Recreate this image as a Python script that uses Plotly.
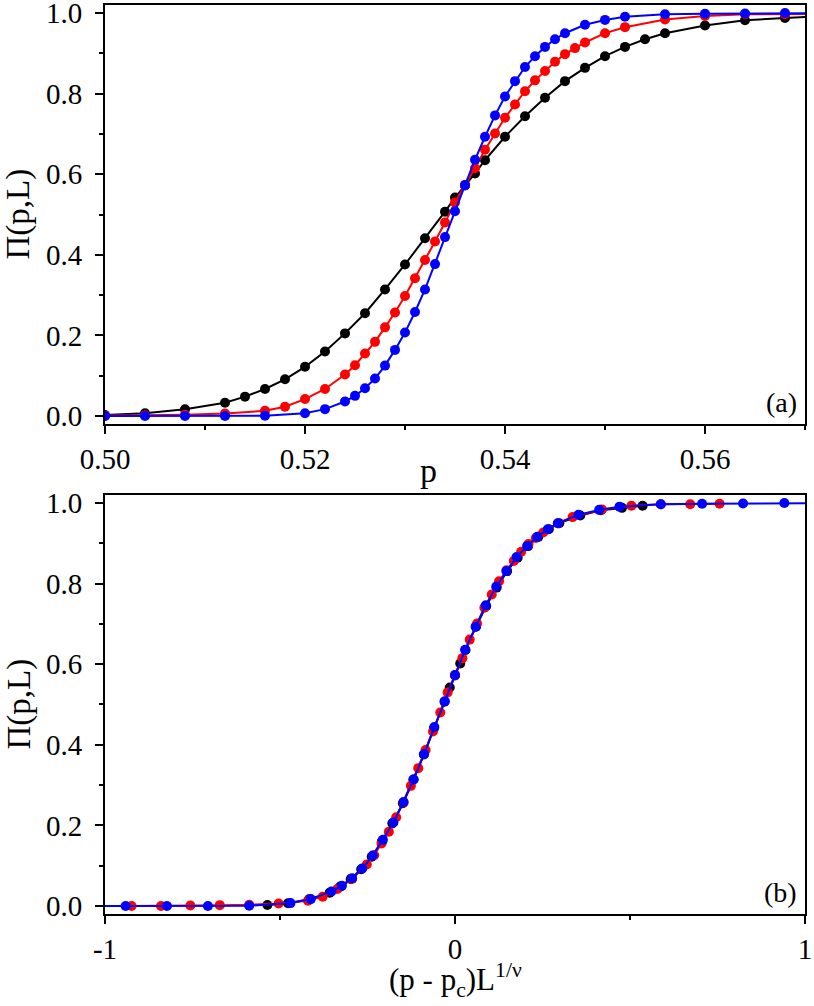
import plotly.graph_objects as go

# ---------------- panel (a): Pi(p,L) versus p ----------------
p_black = [0.500, 0.504, 0.508, 0.512, 0.514, 0.516, 0.518, 0.520, 0.522, 0.524,
           0.526, 0.528, 0.530, 0.532, 0.534, 0.535, 0.536, 0.537, 0.538, 0.540,
           0.542, 0.544, 0.546, 0.548, 0.550, 0.552, 0.554, 0.556, 0.560, 0.564,
           0.568, 0.572]
pi_black = [0.0025, 0.0066, 0.0165, 0.033, 0.048, 0.067, 0.091, 0.122, 0.160, 0.205,
            0.255, 0.314, 0.376, 0.441, 0.507, 0.542, 0.572, 0.602, 0.635, 0.693,
            0.744, 0.790, 0.831, 0.864, 0.893, 0.916, 0.935, 0.950, 0.969, 0.982,
            0.988, 0.993]

p_red = [0.492, 0.496, 0.500, 0.504, 0.508, 0.512, 0.516, 0.518, 0.520, 0.522,
         0.524, 0.525, 0.526, 0.527, 0.528, 0.529, 0.530, 0.531, 0.532, 0.533,
         0.534, 0.535, 0.536, 0.537, 0.538, 0.539, 0.540, 0.541, 0.542, 0.543,
         0.544, 0.545, 0.546, 0.547, 0.548, 0.550, 0.552, 0.556, 0.560, 0.564,
         0.568, 0.572]
pi_red = [0.000, 0.000, 0.001, 0.002, 0.003, 0.006, 0.013, 0.023, 0.042, 0.067,
          0.103, 0.126, 0.155, 0.184, 0.220, 0.257, 0.298, 0.342, 0.387, 0.433,
          0.480, 0.530, 0.573, 0.615, 0.661, 0.701, 0.740, 0.773, 0.806, 0.833,
          0.856, 0.879, 0.898, 0.913, 0.927, 0.950, 0.965, 0.984, 0.993, 0.997,
          0.997, 0.998]

p_blue = [0.500, 0.504, 0.508, 0.512, 0.516, 0.520, 0.522, 0.524, 0.525, 0.526,
          0.527, 0.528, 0.529, 0.530, 0.531, 0.532, 0.533, 0.534, 0.535, 0.536,
          0.537, 0.538, 0.539, 0.540, 0.541, 0.542, 0.543, 0.544, 0.545, 0.546,
          0.548, 0.550, 0.552, 0.556, 0.560, 0.564, 0.568, 0.572]
pi_blue = [0.000, 0.000, 0.000, 0.000, 0.0005, 0.007, 0.017, 0.036, 0.050, 0.069,
           0.093, 0.125, 0.164, 0.207, 0.258, 0.314, 0.377, 0.444, 0.508, 0.573,
           0.636, 0.693, 0.746, 0.793, 0.831, 0.866, 0.893, 0.916, 0.935, 0.950,
           0.971, 0.983, 0.991, 0.997, 0.998, 0.999, 1.000, 1.000]

# ---------------- panel (b): scaled abscissa (p - pc) L^(1/nu) ----------------
xs_black = [-0.536, -0.477, -0.417, -0.358, -0.328, -0.298, -0.268, -0.238, -0.209, -0.179,
            -0.149, -0.119, -0.089, -0.060, -0.030, -0.015, 0.000, 0.015, 0.030, 0.060,
            0.089, 0.119, 0.149, 0.179, 0.209, 0.238, 0.268, 0.298, 0.358, 0.417,
            0.477, 0.536]
xs_red = [-0.924, -0.840, -0.756, -0.672, -0.588, -0.504, -0.420, -0.378, -0.336, -0.294,
          -0.252, -0.231, -0.210, -0.189, -0.168, -0.147, -0.126, -0.105, -0.084, -0.063,
          -0.042, -0.021, 0.000, 0.021, 0.042, 0.063, 0.084, 0.105, 0.126, 0.147,
          0.168, 0.189, 0.210, 0.231, 0.252, 0.294, 0.336, 0.420, 0.504, 0.588,
          0.672, 0.756]
xs_blue = [-1.058, -0.941, -0.823, -0.706, -0.588, -0.470, -0.412, -0.353, -0.323, -0.294,
           -0.265, -0.235, -0.206, -0.176, -0.147, -0.118, -0.088, -0.059, -0.029, 0.000,
           0.029, 0.059, 0.088, 0.118, 0.147, 0.176, 0.206, 0.235, 0.265, 0.294,
           0.353, 0.412, 0.470, 0.588, 0.706, 0.823, 0.941, 1.058]

x_ticks_a = [0.50, 0.52, 0.54, 0.56]
x_ticks_b = [-1, 0, 1]
x_ticktext_b = ["-1", "0", "1"]

colors = ["#000000", "#ff0000", "#0000ff"]
FONT = "Liberation Serif, Times New Roman, serif"

fig = go.Figure()

series_a = [(p_black, pi_black), (p_red, pi_red), (p_blue, pi_blue)]
series_b = [(xs_black, pi_black), (xs_red, pi_red), (xs_blue, pi_blue)]

for (xv, yv), c in zip(series_a, colors):
    fig.add_trace(go.Scatter(x=xv, y=yv, mode="lines+markers", xaxis="x", yaxis="y",
                             line=dict(color=c, width=2), marker=dict(color=c, size=10),
                             showlegend=False))
for (xv, yv), c in zip(series_b, colors):
    fig.add_trace(go.Scatter(x=xv, y=yv, mode="lines+markers", xaxis="x2", yaxis="y2",
                             line=dict(color=c, width=2), marker=dict(color=c, size=10),
                             showlegend=False))

axis_common = dict(showline=True, linecolor="black", linewidth=2, mirror=True,
                   ticks="outside", ticklen=8, tickwidth=2, tickcolor="black",
                   showgrid=False, zeroline=False, automargin=False,
                   ticklabeloverflow="allow",
                   tickfont=dict(family=FONT, size=29, color="black"))

xminor = dict(ticks="outside", ticklen=4, tickwidth=2, tickcolor="black")
yminor = dict(ticks="outside", tick0=0, dtick=0.1, ticklen=4, tickwidth=2, tickcolor="black")

fig.update_layout(
    width=814, height=1006,
    margin=dict(l=105, r=9, t=5, b=92),
    paper_bgcolor="white", plot_bgcolor="white",
    font=dict(family=FONT, color="black"),
    xaxis=dict(domain=[0, 1], anchor="y", range=[0.50, 0.57],
               tickmode="array", tickvals=x_ticks_a, ticktext=[f"{v:.2f}" for v in x_ticks_a],
               minor=dict(tickmode="linear", tick0=0.50, dtick=0.01, **xminor),
               **axis_common),
    yaxis=dict(domain=[0.539, 1], anchor="x", range=[-0.02, 1.02],
               tick0=0, dtick=0.2, tickformat=".1f", ticklabelstandoff=7,
               minor=yminor, **axis_common),
    xaxis2=dict(domain=[0, 1], anchor="y2", range=[-1, 1],
                tickmode="array", tickvals=x_ticks_b, ticktext=x_ticktext_b,
                minor=dict(tickmode="linear", tick0=-1, dtick=0.5, **xminor),
                **axis_common),
    yaxis2=dict(domain=[0, 0.461], anchor="x2", range=[-0.02, 1.02],
                tick0=0, dtick=0.2, tickformat=".1f", ticklabelstandoff=7,
                minor=yminor, **axis_common),
)

title_font = dict(family=FONT, size=33, color="black")
# axis titles (placed as in the reference)
fig.add_annotation(text="Π(p,L)", xref="paper", yref="y domain", x=(19 - 105) / 700, y=0.5,
                   textangle=-90, showarrow=False, xanchor="center", yanchor="middle",
                   borderpad=0, font=title_font)
fig.add_annotation(text="Π(p,L)", xref="paper", yref="y2 domain", x=(19 - 105) / 700, y=0.5,
                   textangle=-90, showarrow=False, xanchor="center", yanchor="middle",
                   borderpad=0, font=title_font)
fig.add_annotation(text="p", xref="paper", yref="paper", x=(428 - 105) / 700,
                   y=(914 - 470) / 909, showarrow=False, xanchor="center", yanchor="middle",
                   font=dict(family=FONT, size=34, color="black"))
fig.add_annotation(text="(p - p<sub>c</sub>)L<sup>1/ν</sup>", xref="paper", yref="paper",
                   x=0.5, y=(914 - 1004) / 909, showarrow=False, xanchor="center",
                   yanchor="bottom", font=dict(family=FONT, size=31, color="black"))
fig.add_annotation(text="(a)", xref="x domain", yref="y domain", x=0.992, y=0.01,
                   showarrow=False, xanchor="right", yanchor="bottom",
                   font=dict(family=FONT, size=28, color="black"))
fig.add_annotation(text="(b)", xref="x2 domain", yref="y2 domain", x=0.992, y=0.01,
                   showarrow=False, xanchor="right", yanchor="bottom",
                   font=dict(family=FONT, size=28, color="black"))

# the page itself gets no default 8px body margin, so the figure fills the window
fig.write_html("out.html", config={"displayModeBar": False},
               post_script="document.body.style.margin='0px';")
